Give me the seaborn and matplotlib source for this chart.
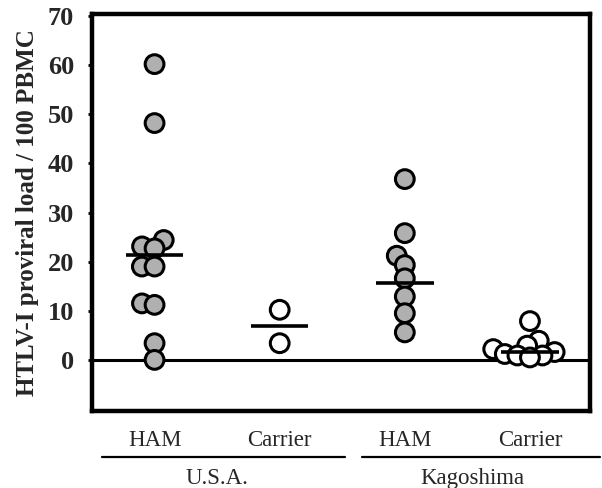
import matplotlib
matplotlib.use("Agg")
import matplotlib.pyplot as plt
import matplotlib.transforms as mtransforms
import seaborn as sns
import pandas as pd
import numpy as np

# ---- data ----
categories = ["U.S.A. HAM", "U.S.A. Carrier", "Kagoshima HAM", "Kagoshima Carrier"]
tick_labels = ["HAM", "Carrier", "HAM", "Carrier"]
usa_ham = [60.2, 48.2, 24.4, 23.1, 22.7, 19.0, 19.0, 11.5, 11.2, 3.4, 0.0]
usa_carrier = [10.2, 3.4]
kag_ham = [36.8, 25.8, 21.2, 19.3, 16.6, 12.9, 9.5, 5.6]
kag_carrier = [7.9, 3.9, 2.9, 2.2, 1.6, 1.2, 0.9, 0.9, 0.5]
group_means = [21.4, 6.9, 15.6, 1.7]
groups = ["U.S.A.", "Kagoshima"]
y_ticks = [0, 10, 20, 30, 40, 50, 60, 70]

series = [usa_ham, usa_carrier, kag_ham, kag_carrier]
status = ["HAM", "Carrier", "HAM", "Carrier"]
rows = []
for cat, st, vals in zip(categories, status, series):
    for v in vals:
        rows.append({"group": cat, "status": st, "load": v})
df = pd.DataFrame(rows)

sns.set_theme(style="white")
plt.rcParams["font.family"] = ["Liberation Serif", "DejaVu Serif"]

fig = plt.figure(figsize=(6.02, 4.88), dpi=100)
ax = fig.add_axes([92 / 602, 1 - 411 / 488, (590 - 92) / 602, (411 - 14) / 488])

# swarm layout computed with a compact marker, markers then drawn larger so they overlap
sns.swarmplot(data=df, x="group", y="load", hue="status", order=categories,
              palette={"HAM": "#b0b0b0", "Carrier": "white"},
              size=6.5, edgecolor="black", linewidth=2.2, legend=False, ax=ax)

ax.set_xlim(-0.5, 3.48)
ax.set_ylim(-10.4, 70.4)
fig.canvas.draw()
for coll in ax.collections:
    if "draw" in coll.__dict__:
        del coll.draw
    coll.set_sizes([13.5 ** 2])
    coll.set_zorder(4)

# mean bars
for i, m in enumerate(group_means):
    ax.hlines(m, i - 0.23, i + 0.23, color="black", linewidth=2.6, zorder=5)

# zero line
ax.axhline(0, color="black", linewidth=2.2, zorder=1)

ax.set_yticks(y_ticks)
ax.set_yticklabels([str(t) for t in y_ticks], fontweight="bold", fontsize=19)
ax.set_xticks(range(len(categories)))
ax.set_xticklabels(tick_labels, fontsize=16.5)
ax.set_xlabel("")
ax.set_ylabel("HTLV-I proviral load / 100 PBMC", fontweight="bold", fontsize=18, labelpad=6)
ax.tick_params(axis="y", direction="out", length=3, width=2, color="black", pad=10, left=True)
ax.tick_params(axis="x", length=0, pad=14)

for s in ax.spines.values():
    s.set_visible(True)
    s.set_color("black")
    s.set_linewidth(3.2)

# group underlines and labels
trans = mtransforms.blended_transform_factory(ax.transData, ax.transAxes)
ax.plot([-0.42, 1.52], [-0.116, -0.116], color="black", linewidth=1.6,
        transform=trans, clip_on=False)
ax.plot([1.66, 3.56], [-0.116, -0.116], color="black", linewidth=1.6,
        transform=trans, clip_on=False)
ax.text(0.5, -0.17, groups[0], transform=trans, ha="center", va="center", fontsize=16.5)
ax.text(2.54, -0.17, groups[1], transform=trans, ha="center", va="center", fontsize=16.5)

fig.savefig("out.png", dpi=100)
